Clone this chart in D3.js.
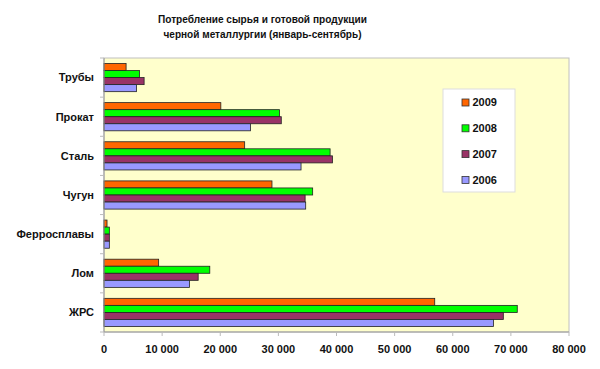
<!DOCTYPE html>
<html><head><meta charset="utf-8">
<script src="https://cdn.jsdelivr.net/npm/d3@7"></script>
<style>body{margin:0;background:#fff;}svg{display:block;font-family:Arial,"Liberation Sans",sans-serif;}</style>
</head><body><svg id="c" width="600" height="369"></svg>
<script>
const categories = ["Трубы","Прокат","Сталь","Чугун","Ферросплавы","Лом","ЖРС"];
const seriesNames = ["2009","2008","2007","2006"];
const v2009 = [3800, 20100, 24200, 28900, 520, 9400, 56900];
const v2008 = [6100, 30200, 38900, 35900, 920, 18200, 71100];
const v2007 = [6900, 30500, 39300, 34600, 920, 16200, 68700];
const v2006 = [5600, 25200, 33900, 34700, 920, 14700, 67000];
const xTicks = [0,10000,20000,30000,40000,50000,60000,70000,80000];
const titleLines = ["Потребление сырья и готовой продукции","черной металлургии (январь-сентябрь)"];
const colors = ["#FF6600","#00FF00","#993366","#9999FF"];

const values = [v2009, v2008, v2007, v2006];
const svg = d3.select("#c");
const L=104, R=569, T=58, B=332;

svg.append("rect").attr("x",L).attr("y",T).attr("width",R-L).attr("height",B-T)
  .attr("fill","#FFFFCC").attr("stroke","#C0C0C0").attr("stroke-width",1);

const x = d3.scaleLinear().domain([0,80000]).range([L,R]);
const y = d3.scaleBand().domain(categories).range([T,B]).paddingInner(0.28).paddingOuter(0.14);
const yInner = d3.scaleBand().domain(seriesNames).range([0,y.bandwidth()]);

const fmt = d => d3.format(",")(d).replace(/,/g," ");

// bars
seriesNames.forEach((s,si)=>{
  svg.append("g").selectAll("rect").data(categories).join("rect")
    .attr("x",x(0)).attr("y",c=>y(c)+yInner(s))
    .attr("width",(c,i)=>x(values[si][i])-x(0))
    .attr("height",yInner.bandwidth())
    .attr("fill",colors[si]).attr("stroke","#222").attr("stroke-width",0.8);
});

// y axis
const ya = d3.scaleBand().domain(categories).range([T,B]);
svg.append("line").attr("x1",L).attr("x2",L).attr("y1",T).attr("y2",B).attr("stroke","#999");
const gy = svg.append("g");
d3.range(categories.length+1).forEach(i=>{
  const yy = T + i*(B-T)/categories.length;
  gy.append("line").attr("x1",L-4).attr("x2",L).attr("y1",yy).attr("y2",yy).attr("stroke","#bbb");
});
gy.selectAll("text").data(categories).join("text")
  .attr("x",94).attr("y",c=>ya(c)+ya.bandwidth()/2).attr("dy","0.35em")
  .attr("text-anchor","end").attr("font-size",11).attr("font-weight","bold").attr("fill","#111")
  .text(d=>d);

// x axis
svg.append("line").attr("x1",L).attr("x2",R).attr("y1",B).attr("y2",B).attr("stroke","#999");
const gx = svg.append("g");
gx.selectAll("line").data(xTicks).join("line")
  .attr("x1",d=>x(d)).attr("x2",d=>x(d)).attr("y1",B).attr("y2",B+4).attr("stroke","#bbb");
gx.selectAll("text").data(xTicks).join("text")
  .attr("x",d=>x(d)).attr("y",349).attr("dy","0.35em").attr("text-anchor","middle")
  .attr("font-size",11).attr("font-weight","bold").attr("fill","#111").text(fmt);

// title
const titleW = [209, 198];
svg.append("g").selectAll("text").data(titleLines).join("text")
  .attr("x",262.5).attr("y",(d,i)=>23+i*15).attr("text-anchor","middle")
  .attr("textLength",(d,i)=>titleW[i]).attr("lengthAdjust","spacingAndGlyphs")
  .attr("font-size",11).attr("font-weight","bold").attr("fill","#111").text(d=>d);

// legend
const lg = svg.append("g");
lg.append("rect").attr("x",443).attr("y",89).attr("width",72).attr("height",103)
  .attr("fill","#fff").attr("stroke","#ddd");
seriesNames.forEach((s,i)=>{
  const yy = 102.5 + i*25.8;
  lg.append("rect").attr("x",462).attr("y",yy-3.5).attr("width",7).attr("height",7)
    .attr("fill",colors[i]).attr("stroke","#333").attr("stroke-width",0.8);
  lg.append("text").attr("x",472.5).attr("y",yy).attr("dy","0.35em")
    .attr("font-size",11).attr("font-weight","bold").attr("fill","#111").text(s);
});
</script></body></html>
